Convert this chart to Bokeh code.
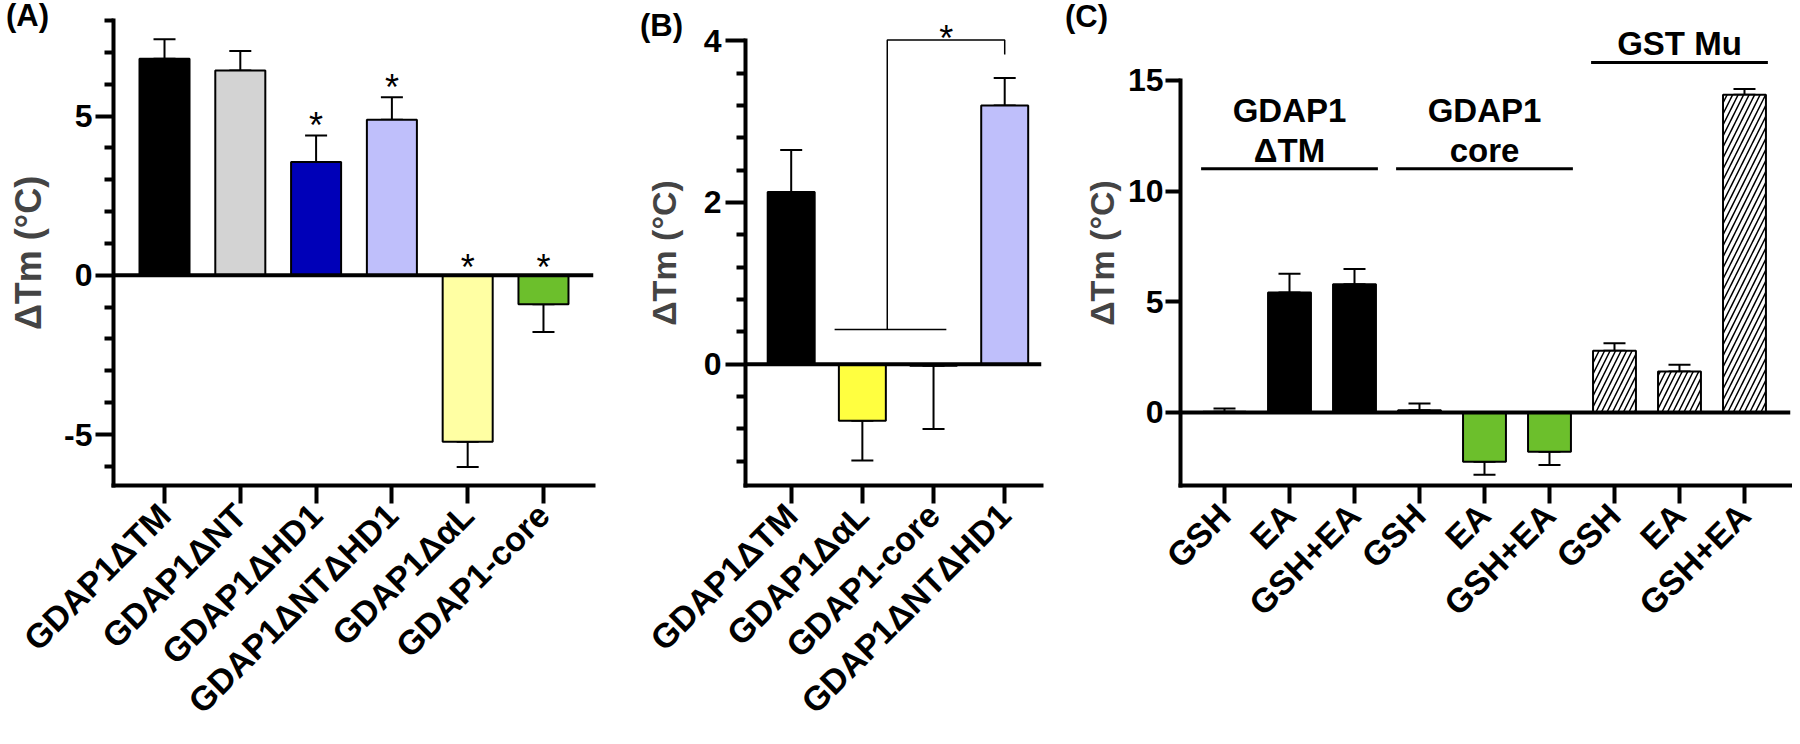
from math import pi
from bokeh.plotting import figure
from bokeh.models import ColumnDataSource, Whisker, TeeHead, FixedTicker, Span, Div
from bokeh.layouts import row
from bokeh.embed import file_html
from bokeh.resources import INLINE
from bokeh.core.properties import value

FONT = "Liberation Sans"

# ---------------- data ----------------
a_labels = ["GDAP1ΔTM", "GDAP1ΔNT", "GDAP1ΔHD1", "GDAP1ΔNTΔHD1", "GDAP1ΔαL", "GDAP1-core"]
a_values = [6.80, 6.43, 3.56, 4.88, -5.23, -0.91]
a_errors = [0.61, 0.61, 0.83, 0.71, 0.79, 0.87]
a_colors = ["#000000", "#d3d3d3", "#0000b8", "#bfbffb", "#ffffa3", "#6cbf2c"]
a_signif = [False, False, True, True, True, True]

b_labels = ["GDAP1ΔTM", "GDAP1ΔαL", "GDAP1-core", "GDAP1ΔNTΔHD1"]
b_values = [2.13, -0.70, -0.02, 3.20]
b_errors = [0.52, 0.49, 0.78, 0.34]
b_colors = ["#000000", "#ffff40", "#6cbf2c", "#bfbffb"]

c_labels = ["GSH", "EA", "GSH+EA", "GSH", "EA", "GSH+EA", "GSH", "EA", "GSH+EA"]
c_values = [0.03, 5.42, 5.79, 0.10, -2.23, -1.78, 2.79, 1.85, 14.35]
c_errors = [0.15, 0.84, 0.69, 0.30, 0.59, 0.59, 0.33, 0.30, 0.26]
c_colors = ["#000000", "#000000", "#000000", "#6cbf2c", "#6cbf2c", "#6cbf2c", "#ffffff", "#ffffff", "#ffffff"]
c_hatch = [" ", " ", " ", " ", " ", " ", "/", "/", "/"]
c_groups = ["GDAP1\nΔTM", "GDAP1\ncore", "GST Mu"]

panel_names = ["(A)", "(B)", "(C)"]

H = 736


def panel(labels, vals, errs, colors, hatches, yr, bounds, major, minor,
          xr, bl, fw, br, bt, fh, label_standoff, tick_out, tick_standoff, label_size):
    n = len(vals)
    xs = list(range(1, n + 1))
    lo = [v if v >= 0 else v - e for v, e in zip(vals, errs)]
    hi = [v + e if v >= 0 else v for v, e in zip(vals, errs)]
    src = ColumnDataSource(dict(x=xs, top=vals, color=colors, hatch=hatches, lo=lo, hi=hi))
    p = figure(width=bl + fw + br, height=H, x_range=xr, y_range=yr,
               output_backend="svg", toolbar_location=None,
               min_border_left=bl, min_border_right=br, min_border_top=bt,
               min_border_bottom=H - bt - fh)
    p.outline_line_color = None
    p.border_fill_color = None
    p.background_fill_color = None
    p.xgrid.grid_line_color = None
    p.ygrid.grid_line_color = None

    w = Whisker(base="x", lower="lo", upper="hi", source=src, line_width=2,
                upper_head=TeeHead(size=22, line_width=2),
                lower_head=TeeHead(size=22, line_width=2))
    p.add_layout(w)
    p.vbar(x="x", top="top", bottom=0, width=0.66, source=src,
           fill_color="color", line_color="black", line_width=2,
           hatch_pattern="hatch", hatch_color="black", hatch_scale=11, hatch_weight=1.5)
    p.add_layout(Span(location=0, dimension="width", line_color="black", line_width=4))

    ya = p.yaxis[0]
    ya.ticker = FixedTicker(ticks=major, minor_ticks=minor)
    ya.major_label_overrides = {t: ("%g" % t) for t in major}
    ya.bounds = bounds
    for ax in (p.xaxis[0], ya):
        ax.axis_line_width = 4
        ax.axis_line_cap = "square"
        ax.major_tick_line_width = 4
        ax.minor_tick_line_width = 4
        ax.major_tick_in = 0
        ax.minor_tick_in = 0
        ax.major_label_text_font = FONT
        ax.major_label_text_font_style = "bold"
        ax.major_label_text_color = "black"
    p.xaxis[0].major_tick_out = 18
    ya.major_tick_out = tick_out
    ya.minor_tick_out = 9
    ya.major_label_text_font_size = "32px"
    ya.major_label_standoff = tick_standoff
    ya.axis_label = "ΔTm (°C)"
    ya.axis_label_text_font = FONT
    ya.axis_label_text_font_style = "bold"
    ya.axis_label_text_font_size = label_size
    ya.axis_label_standoff = label_standoff

    xa = p.xaxis[0]
    xa.ticker = FixedTicker(ticks=xs)
    xa.minor_tick_line_color = None
    xa.major_label_overrides = {i + 1: lab for i, lab in enumerate(labels)}
    xa.major_label_orientation = pi / 4
    xa.major_label_text_font_size = "34px"
    xa.major_label_standoff = 6
    return p, xs, hi


def letter_div(txt, dx, dy):
    html = ('<span style="position:absolute; left:%dpx; top:%dpx; '
            "font-family:'Liberation Sans', Arial, sans-serif; font-weight:bold; "
            'font-size:31px; line-height:1; color:black; white-space:nowrap;">%s</span>'
            % (dx, dy, txt))
    return Div(text=html, width=1, height=1, margin=0, align="start",
               styles={"position": "relative", "overflow": "visible", "z-index": "5"})


# ---------------- panel A ----------------
pA, xa_pos, a_hi = panel(a_labels, a_values, a_errors, a_colors, [" "] * 6,
                         (-6.6, 8.0), (-6.6, 8.0), [-5, 0, 5],
                         [-6, -4, -3, -2, -1, 1, 2, 3, 4, 6, 7, 8],
                         (0.327, 6.66), 112, 480, 47, 11, 478, 12, 18, 3, "36px")
sx = [x for x, s in zip(xa_pos, a_signif) if s]
sy = [(h + 0.32) if v > 0 else 0.25 for h, v, s in zip(a_hi, a_values, a_signif) if s]
pA.text(x=sx, y=sy, text=["*"] * len(sx), text_align="center", text_baseline="middle",
        text_font=value(FONT), text_font_size="36px", text_color="black")

# ---------------- panel B ----------------
pB, xb_pos, b_hi = panel(b_labels, b_values, b_errors, b_colors, [" "] * 4,
                         (-1.5, 4.25), (-1.5, 4.0), [0, 2, 4],
                         [-1.2, -0.8, -0.4, 0.4, 0.8, 1.2, 1.6, 2.4, 2.8, 3.2, 3.6],
                         (0.358, 4.517), 102, 298, 30, 12, 479, 18, 20, 4, "34px")
# significance bracket: bars 2-3 vs bar 4
pB.line(x=[1.61, 3.18], y=[0.43, 0.43], line_color="black", line_width=1.5)
pB.line(x=[2.35, 2.35, 4.0, 4.0], y=[0.43, 4.01, 4.01, 3.83], line_color="black", line_width=1.5)
pB.text(x=[3.18], y=[4.03], text=["*"], text_align="center", text_baseline="middle",
        text_font=value(FONT), text_font_size="36px", text_color="black")

# ---------------- panel C ----------------
pC, xc_pos, c_hi = panel(c_labels, c_values, c_errors, c_colors, c_hatch,
                         (-3.3, 17.7), (-3.3, 15.0), [0, 5, 10, 15], [],
                         (0.323, 9.708), 108, 610, 2, 20, 466, 4, 15, 2, "34px")
pC.yaxis[0].minor_tick_line_color = None
g_center = [2, 5, 8]
g_line_y = [11.0, 11.0, 15.8]
for g, cx, ly in zip(c_groups, g_center, g_line_y):
    pC.line(x=[cx - 1.36, cx + 1.36], y=[ly, ly], line_color="black", line_width=3)
    parts = g.split("\n")
    for k, t in enumerate(reversed(parts)):
        pC.text(x=[cx], y=[ly + 0.85 + 1.8 * k], text=[t], text_align="center",
                text_baseline="middle", text_font=value(FONT), text_font_style="bold",
                text_font_size="33px", text_color="black")

dA = letter_div(panel_names[0], 6, 0)
dB = letter_div(panel_names[1], 0, 10)
dC = letter_div(panel_names[2], -6, 1)

layout = row(dA, pA, dB, pB, dC, pC, spacing=0)
open("out.html", "w").write(file_html(layout, INLINE))
